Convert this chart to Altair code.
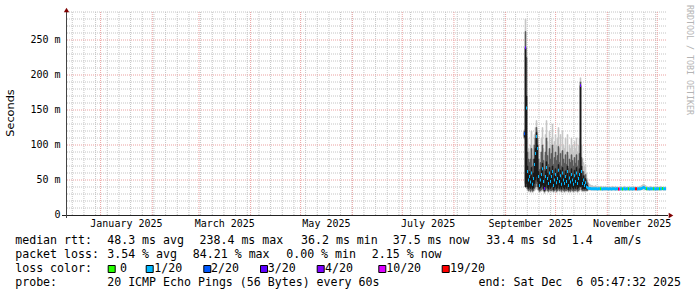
import altair as alt
import pandas as pd

# ---------------- data ----------------
DATA_START = pd.Timestamp("2025-09-12T01:00:00Z")
STEP = pd.Timedelta(hours=14.4)

LOSS_LEVELS = ["0", "1/20", "2/20", "3/20", "4/20", "10/20", "19/20"]
LOSS_COLORS = ["#26ff00", "#00b8ff", "#0059ff", "#5e00ff", "#7e00ff", "#dd00ff", "#ff0000"]

# median rtt (ms), one value per consolidated step
median = [
    116, 239, 153, 62, 50, 55, 47, 60, 44, 52,
    72, 88, 112, 95, 55, 42, 50, 58, 66, 48,
    38, 55, 68, 52, 45, 60, 48, 55, 62, 42,
    50, 58, 46, 52, 64, 48, 56, 44, 60, 50,
    45, 55, 48, 62, 42, 53, 47, 58, 50, 44,
    56, 48, 60, 45, 52, 58, 185, 62, 45, 50,
    42, 46, 40, 39,
    38.2, 37.9, 37.7, 37.6, 37.5, 37.6, 37.4, 37.5, 37.5, 37.3,
    37.4, 37.6, 37.5, 37.4, 37.3, 37.5, 37.4, 37.5, 37.6, 37.4,
    37.3, 37.5, 37.4, 37.3, 37.5, 37.6, 37.4, 37.3, 37.4, 37.5,
    37.2, 37.3, 37.5, 37.4, 37.3, 37.4, 37.5, 37.3, 37.4, 37.5,
    37.4, 37.3, 37.4, 37.5, 37.3, 37.4, 37.6, 37.5, 37.4, 37.3,
    37.5, 37.4, 37.6, 38.0, 38.6, 39.4, 38.8, 38.0, 37.6, 37.4,
    37.5, 37.3, 37.4, 37.5, 37.6, 37.4, 37.5, 37.3, 37.4, 37.5,
    37.6, 37.4, 37.5, 37.6, 37.7, 37.5, 37.6, 37.5,
]

# loss level index (into LOSS_LEVELS) per step
loss_idx = [
    2, 3, 1, 1, 1, 1, 1, 1, 1, 1,
    1, 1, 1, 1, 1, 1, 1, 1, 1, 1,
    3, 1, 1, 1, 1, 1, 1, 1, 1, 1,
    1, 1, 1, 1, 1, 1, 1, 1, 1, 1,
    1, 1, 1, 1, 1, 1, 1, 1, 1, 1,
    1, 1, 1, 1, 1, 1, 3, 1, 1, 1,
    1, 1, 1, 1,
    1, 1, 1, 1, 1, 1, 1, 1, 1, 1,
    1, 1, 0, 1, 1, 1, 1, 1, 1, 1,
    1, 1, 1, 1, 1, 1, 1, 1, 1, 1,
    6, 5, 1, 1, 0, 1, 1, 1, 1, 1,
    0, 1, 1, 1, 1, 1, 1, 6, 6, 1,
    1, 1, 1, 1, 1, 1, 1, 1, 0, 1,
    1, 1, 1, 1, 1, 0, 1, 1, 1, 1,
    1, 0, 1, 1, 0, 1, 1, 1,
]

# smoke envelope: min and max ping per step (ms)
smoke_min = [
    108, 40, 38, 35, 33, 34, 32, 34, 32, 33,
    35, 36, 38, 36, 34, 32, 33, 34, 35, 33,
    31, 33, 35, 33, 32, 34, 33, 33, 34, 32,
    33, 34, 32, 33, 35, 33, 34, 32, 34, 33,
    32, 33, 33, 34, 32, 33, 32, 34, 33, 32,
    33, 33, 34, 32, 33, 34, 40, 34, 33, 33,
    33, 33, 34, 34,
    35.8, 35.6, 35.5, 35.5, 35.6, 35.5, 35.4, 35.5, 35.5, 35.4,
    35.5, 35.6, 35.5, 35.4, 35.4, 35.5, 35.5, 35.4, 35.6, 35.5,
    35.4, 35.5, 35.5, 35.4, 35.5, 35.6, 35.5, 35.4, 35.5, 35.5,
    35.3, 35.4, 35.5, 35.5, 35.4, 35.5, 35.5, 35.4, 35.5, 35.5,
    35.5, 35.4, 35.5, 35.5, 35.4, 35.5, 35.6, 35.5, 35.5, 35.4,
    35.5, 35.5, 35.6, 35.8, 36.2, 36.8, 36.4, 35.9, 35.6, 35.5,
    35.5, 35.4, 35.5, 35.5, 35.6, 35.5, 35.5, 35.4, 35.5, 35.5,
    35.6, 35.5, 35.5, 35.6, 35.6, 35.5, 35.6, 35.5,
]
smoke_max = [
    122, 280, 239, 110, 95, 90, 100, 120, 85, 100,
    115, 125, 135, 120, 95, 80, 90, 110, 125, 95,
    85, 115, 135, 105, 90, 120, 100, 110, 130, 95,
    105, 115, 100, 110, 125, 95, 115, 90, 120, 100,
    95, 110, 90, 115, 85, 100, 95, 110, 100, 90,
    105, 95, 110, 90, 100, 110, 196, 100, 80, 75,
    70, 72, 60, 52,
    46, 44, 43, 42, 42, 41, 41, 42, 41, 41,
    41, 40, 41, 41, 40, 41, 40, 41, 40, 40,
    40, 41, 40, 40, 41, 40, 40, 41, 40, 40,
    40, 40, 41, 40, 40, 40, 41, 40, 40, 40,
    40, 41, 40, 40, 40, 41, 40, 40, 40, 40,
    40, 41, 41, 42, 43, 44, 43, 42, 41, 40,
    40, 40, 41, 40, 40, 40, 40, 41, 40, 40,
    40, 40, 41, 40, 40, 40, 40, 40,
]

# inner smoke bands for the turbulent period (first 64 steps)
mid_lo = [
    110, 45, 40, 37, 35, 36, 34, 36, 34, 35,
    38, 40, 45, 40, 36, 34, 35, 36, 38, 35,
    33, 35, 38, 35, 34, 36, 35, 35, 36, 34,
    35, 36, 34, 35, 37, 35, 36, 34, 36, 35,
    34, 35, 35, 36, 34, 35, 34, 36, 35, 34,
    35, 35, 36, 34, 35, 36, 42, 36, 35, 35,
    35, 35, 35, 35,
]
mid_hi = [
    120, 262, 225, 90, 80, 75, 80, 95, 70, 80,
    100, 110, 125, 110, 80, 65, 75, 90, 100, 78,
    65, 90, 110, 85, 72, 95, 80, 88, 100, 72,
    82, 90, 78, 85, 98, 75, 88, 70, 92, 80,
    74, 86, 72, 90, 66, 80, 75, 86, 78, 70,
    82, 74, 86, 70, 78, 88, 190, 82, 62, 62,
    56, 58, 50, 46,
]
core_lo = [
    112, 40, 45, 40, 38, 40, 38, 40, 37, 39,
    45, 50, 55, 48, 40, 37, 39, 41, 43, 38,
    35, 40, 44, 39, 37, 41, 38, 40, 42, 36,
    39, 41, 37, 39, 43, 38, 40, 37, 41, 39,
    37, 40, 38, 42, 36, 39, 37, 41, 39, 37,
    40, 38, 41, 37, 39, 41, 40, 41, 37, 38,
    37, 38, 37, 37,
]
core_hi = [
    118, 239, 170, 70, 58, 62, 55, 68, 52, 60,
    80, 95, 118, 100, 62, 48, 57, 66, 74, 55,
    45, 63, 76, 60, 52, 68, 55, 63, 70, 49,
    57, 66, 53, 60, 72, 55, 64, 51, 68, 57,
    52, 63, 55, 70, 49, 60, 54, 66, 57, 51,
    64, 55, 68, 52, 59, 66, 185, 70, 52, 56,
    47, 52, 44, 42,
]

# axis ticks / labels
Y_MAJOR = [50, 100, 150, 200, 250]
Y_LABELS = [0, 50, 100, 150, 200, 250]
MONTH_STARTS = ["2025-%02d-01T00:00:00Z" % m for m in range(1, 13)]
MONTH_LABEL_DATES = ["2025-01-16T12:00:00Z", "2025-03-16T12:00:00Z", "2025-05-16T12:00:00Z",
                     "2025-07-16T12:00:00Z", "2025-09-16T00:00:00Z", "2025-11-16T00:00:00Z"]
MONTH_LABELS = ["January 2025", "March 2025", "May 2025", "July 2025",
                "September 2025", "November 2025"]

# ---------------- frames ----------------
fmt = "%Y-%m-%dT%H:%M:%SZ"
n = len(median)
times = [DATA_START + i * STEP for i in range(n)]
df = pd.DataFrame({
    "t": [x.strftime(fmt) for x in times],
    "t2": [(x + STEP).strftime(fmt) for x in times],
    "median": median,
    "loss": [LOSS_LEVELS[k] for k in loss_idx],
    "smin": smoke_min,
    "smax": smoke_max,
})
df_in = df.iloc[:len(mid_lo)].copy()
df_in["mlo"] = mid_lo
df_in["mhi"] = mid_hi
df_in["clo"] = core_lo
df_in["chi"] = core_hi

weeks = pd.date_range("2024-12-15", "2025-12-06", freq="7D", tz="UTC")
week_df = pd.DataFrame({"d": [w.strftime(fmt) for w in weeks]})
hminor = pd.DataFrame({"v": [v for v in range(10, 291, 10) if v % 50 != 0]})

XS = alt.Scale(type="utc",
               domain=[alt.DateTime(year=2024, month=12, date=11, hours=5, minutes=47, seconds=32, utc=True),
                       alt.DateTime(year=2025, month=12, date=6, hours=5, minutes=47, seconds=32, utc=True)])
YS = alt.Scale(domain=[0, 290], nice=False, zero=False)

PAD_L, PAD_T = 66, 12
MONO = "DejaVu Sans Mono"


def X(f):
    return alt.X(f, type="temporal", scale=XS, axis=None)


def Y(f):
    return alt.Y(f, type="quantitative", scale=YS, axis=None)


def txt(s, xa, ya, size=11.6, font=MONO, align="left", angle=0, color="#000000"):
    return alt.Chart(alt.Data(values=[{}])).mark_text(
        text=s.replace(" ", "\u00a0"), font=font, fontSize=size, align=align,
        baseline="middle", angle=angle, color=color
    ).encode(x=alt.value(xa - PAD_L), y=alt.value(ya - PAD_T))


layers = []
# grid
layers.append(alt.Chart(week_df).mark_rule(stroke="#c4c4c4", strokeWidth=1, strokeDash=[1, 1]).encode(x=X("d")))
layers.append(alt.Chart(hminor).mark_rule(stroke="#c4c4c4", strokeWidth=1, strokeDash=[1, 1]).encode(y=Y("v")))
layers.append(alt.Chart(pd.DataFrame({"d": MONTH_STARTS})).mark_rule(
    stroke="#eba0a0", strokeWidth=1, strokeDash=[1, 1]).encode(x=X("d")))
layers.append(alt.Chart(pd.DataFrame({"v": Y_MAJOR})).mark_rule(
    stroke="#eba0a0", strokeWidth=1, strokeDash=[1, 1]).encode(y=Y("v")))

# smoke
layers.append(alt.Chart(df).mark_rect(color="#c8c8c8", stroke="#c8c8c8", strokeWidth=0.6).encode(
    x=X("t"), x2="t2", y=Y("smin"), y2="smax"))
layers.append(alt.Chart(df_in).mark_rect(color="#5a5a5a", stroke="#5a5a5a", strokeWidth=0.6).encode(
    x=X("t"), x2="t2", y=Y("mlo"), y2="mhi"))
layers.append(alt.Chart(df_in).mark_rect(color="#1c1c1c", stroke="#1c1c1c", strokeWidth=0.6).encode(
    x=X("t"), x2="t2", y=Y("clo"), y2="chi"))

# median coloured by loss
layers.append(alt.Chart(df).mark_rule(strokeWidth=3).encode(
    x=X("t"), x2="t2", y=Y("median"),
    color=alt.Color("loss:N", scale=alt.Scale(domain=LOSS_LEVELS, range=LOSS_COLORS), legend=None)))

# axes lines and arrows
layers.append(alt.Chart(alt.Data(values=[{}])).mark_rule(color="#222222", strokeWidth=1).encode(
    x=alt.value(-4), x2=alt.value(602), y=alt.value(203.5)))
layers.append(alt.Chart(alt.Data(values=[{}])).mark_rule(color="#444444", strokeWidth=1).encode(
    x=alt.value(0.5), y=alt.value(206), y2=alt.value(-1)))
layers.append(alt.Chart(alt.Data(values=[{}])).mark_point(
    shape="triangle-right", filled=True, size=28, color="#7f0000", opacity=1).encode(
    x=alt.value(605), y=alt.value(203.5)))
layers.append(alt.Chart(alt.Data(values=[{}])).mark_point(
    shape="triangle-up", filled=True, size=28, color="#7f0000", opacity=1).encode(
    x=alt.value(0.5), y=alt.value(-2)))

# axis labels
ylab = pd.DataFrame({"v": Y_LABELS, "label": ["0" if v == 0 else "%d\u00a0m" % v for v in Y_LABELS]})
layers.append(alt.Chart(ylab).mark_text(font=MONO, fontSize=10, align="right", baseline="middle", color="#000").encode(
    y=Y("v"), x=alt.value(-5.5), text="label:N"))
xlab = pd.DataFrame({"d": MONTH_LABEL_DATES, "label": MONTH_LABELS})
layers.append(alt.Chart(xlab).mark_text(font=MONO, fontSize=10, align="center", baseline="middle", color="#000").encode(
    x=X("d"), y=alt.value(224 - PAD_T), text="label:N"))

layers.append(txt("Seconds", 11, 113, size=11.3, font="DejaVu Sans", align="center", angle=270))
layers.append(txt("RRDTOOL / TOBI OETIKER", 688.5, 60, size=8.3, align="center", angle=90, color="#b4b4b4"))

# legend lines
L1, L2, L3, L4 = 240.7, 255.0, 269.3, 283.4
line1 = [("median rtt:", 15.2), ("48.3 ms avg", 107.2), ("238.4 ms max", 199.5), ("36.2 ms min", 301.0),
         ("37.5 ms now", 392.8), ("33.4 ms sd", 486.2), ("1.4   am/s", 571.8)]
line2 = [("packet loss:", 15.2), ("3.54 % avg", 107.2), ("84.21 % max", 192.8), ("0.00 % min", 286.2),
         ("2.15 % now", 371.8)]
for s, xa in line1:
    layers.append(txt(s, xa, L1))
for s, xa in line2:
    layers.append(txt(s, xa, L2))
layers.append(txt("loss color:", 15.2, L3))
BOX_X = [107.7, 145.7, 203.3, 260.0, 316.7, 378.3, 441.7]
LAB_X = [120.0, 154.2, 211.0, 267.7, 325.0, 386.2, 450.0]
for lvl, col, bx, lx in zip(LOSS_LEVELS, LOSS_COLORS, BOX_X, LAB_X):
    layers.append(alt.Chart(alt.Data(values=[{}])).mark_rect(
        fill=col, stroke="#000000", strokeWidth=1).encode(
        x=alt.value(bx - PAD_L + 0.5), x2=alt.value(bx + 7 - PAD_L + 0.5),
        y=alt.value(265.5 - PAD_T), y2=alt.value(272.5 - PAD_T)))
    layers.append(txt(lvl, lx, L3))
layers.append(txt("probe:", 15.2, L4))
layers.append(txt("20 ICMP Echo Pings (56 Bytes) every 60s", 107.2, L4))
layers.append(txt("end: Sat Dec  6 05:47:32 2025", 681, L4, align="right"))

chart = alt.layer(*layers).properties(
    width=600, height=203,
    autosize=alt.AutoSizeParams(type="none"),
    padding={"left": PAD_L, "top": PAD_T, "right": 31, "bottom": 82},
    background="white",
).configure_view(stroke=None)

chart.save("out.html", embed_options={"renderer": "svg", "actions": False})
